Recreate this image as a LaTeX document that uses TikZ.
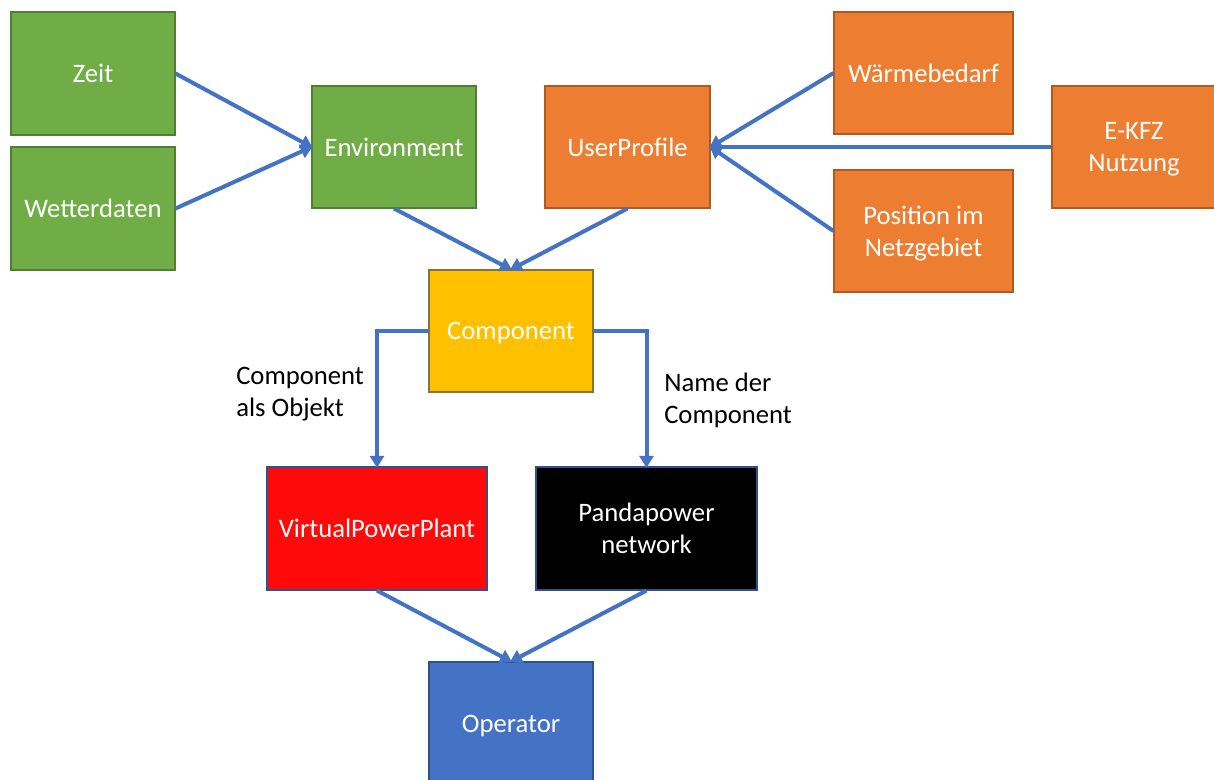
\documentclass[tikz,border=0pt]{standalone}
\usepackage{fontspec}
\setmainfont{Carlito}
\usetikzlibrary{arrows.meta}
\definecolor{cgreen}{HTML}{70AD47}
\definecolor{cgreenb}{HTML}{507E32}
\definecolor{corange}{HTML}{ED7D31}
\definecolor{coranged}{HTML}{AE5A21}
\definecolor{cyellow}{HTML}{FFC000}
\definecolor{cyellowb}{HTML}{BC8C00}
\definecolor{cred}{HTML}{FF0A0A}
\definecolor{cblue}{HTML}{4472C4}
\definecolor{cblueb}{HTML}{2F528F}
\tikzset{
  box/.style={rectangle, draw, line width=0.8pt, text=white, align=center,
    font=\fontsize{20}{24}\selectfont, inner sep=0pt, text depth=0pt},
  gbox/.style={box, fill=cgreen, draw=cgreenb},
  obox/.style={box, fill=corange, draw=coranged},
  ybox/.style={box, fill=cyellow, draw=cyellowb!60!cblueb},
  rbox/.style={box, fill=cred, draw=cblueb},
  kbox/.style={box, fill=black, draw=cblueb},
  bbox/.style={box, fill=cblue, draw=cblueb},
  conn/.style={draw=cblue, line width=3pt, -{Triangle[length=9pt,width=10.5pt]}, shorten >=-1pt},
  lbl/.style={align=left, font=\fontsize{20}{24}\selectfont, text=black, inner sep=0pt}
}
\begin{document}
\begin{tikzpicture}[x=0.75pt,y=-0.75pt]
\useasboundingbox (0,0) rectangle (1214,780);
\clip (0,0) rectangle (1214,780);
\node[gbox, minimum width=123pt, minimum height=92.25pt] (zeit) at (93,73.5) {Zeit};
\node[gbox, minimum width=123pt, minimum height=92.25pt] (wetter) at (93,208.5) {Wetterdaten};
\node[gbox, minimum width=123pt, minimum height=91.5pt] (env) at (394,147) {Environment};
\node[obox, minimum width=123.75pt, minimum height=91.5pt] (user) at (627.5,147) {UserProfile};
\node[obox, minimum width=134.25pt, minimum height=91.5pt] (waerme) at (923.5,73) {Wärmebedarf};
\node[obox, minimum width=123pt, minimum height=91.5pt] (ekfz) at (1134,147) {E-KFZ\\Nutzung};
\node[obox, minimum width=134.25pt, minimum height=91.5pt] (pos) at (923.5,231) {Position im\\Netzgebiet};
\node[ybox, minimum width=123pt, minimum height=91.5pt] (comp) at (511,331) {Component};
\node[rbox, minimum width=165pt, minimum height=92.25pt] (vpp) at (377,528.5) {VirtualPowerPlant};
\node[kbox, minimum width=165.75pt, minimum height=92.25pt] (pp) at (646.5,528.5) {Pandapower\\network};
\node[bbox, minimum width=123pt, minimum height=92.25pt] (op) at (511,723.5) {Operator};
\node[lbl, anchor=west] (l1) at (236,394) {Component\\als Objekt};
\node[lbl, anchor=west] (l2) at (664,400) {Name der\\Component};
\draw[conn] (zeit.east) -- (env.west);
\draw[conn] (wetter.east) -- (env.west);
\draw[conn] (env.south) -- (comp.north);
\draw[conn] (user.south) -- (comp.north);
\draw[conn] (waerme.west) -- (user.east);
\draw[conn] (ekfz.west) -- (user.east);
\draw[conn] (pos.west) -- (user.east);
\draw[conn] (comp.west) -| (vpp.north);
\draw[conn] (comp.east) -| (pp.north);
\draw[conn] (vpp.south) -- (op.north);
\draw[conn] (pp.south) -- (op.north);
\end{tikzpicture}
\end{document}
